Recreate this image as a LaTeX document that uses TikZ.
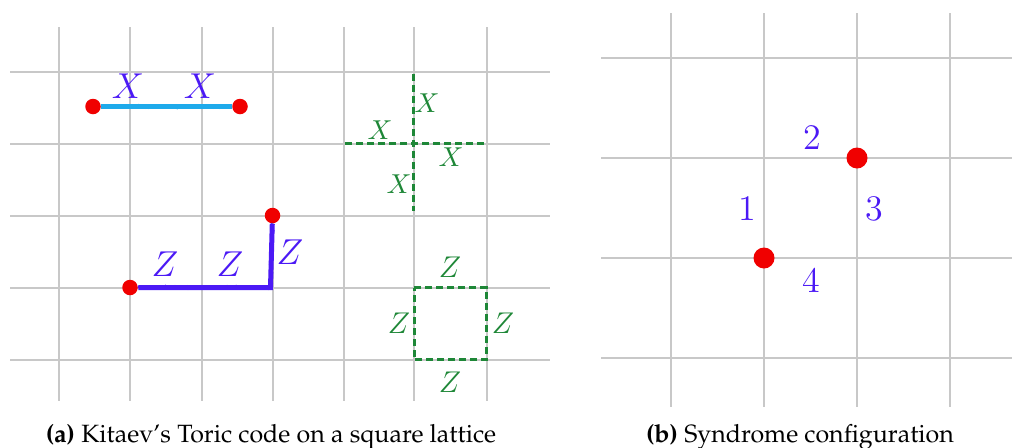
\documentclass[tikz,border=0pt]{standalone}
\usepackage[T1,TU]{fontenc}
\usetikzlibrary{decorations.pathmorphing}
\definecolor{gridgray}{RGB}{200,200,200}
\definecolor{vio}{RGB}{75,25,245}
\definecolor{cyanline}{RGB}{30,170,235}
\definecolor{dotred}{RGB}{240,0,0}
\definecolor{grn}{RGB}{30,135,55}
\newcommand{\capfont}{\fontencoding{T1}\fontfamily{ppl}\selectfont\fontsize{10}{12}\selectfont}
\tikzset{
  gridline/.style={draw=gridgray, line width=0.8pt},
  reddot/.style={circle, fill=dotred, inner sep=0pt, minimum size=6.2pt},
  bigdot/.style={circle, fill=dotred, inner sep=0pt, minimum size=8.4pt},
  vlab/.style={text=vio, inner sep=0pt, font=\fontsize{13.5}{15}\selectfont},
  glabx/.style={text=grn, inner sep=0pt, font=\fontsize{11}{13}\selectfont},
  glabz/.style={text=grn, inner sep=0pt, font=\fontsize{13}{15}\selectfont},
  nlab/.style={text=vio, inner sep=0pt, font=\fontsize{15}{17}\selectfont},
  xstring/.style={draw=cyanline, line width=2pt},
  zstring/.style={draw=vio, line width=2pt},
  fuzz/.style={line width=0.7pt, decorate, decoration={random steps, segment length=1pt, amplitude=0.6pt}},
  gdash/.style={draw=grn, line width=1.2pt, dash pattern=on 2.8pt off 1.6pt},
  caption/.style={inner sep=0pt, anchor=base, font=\capfont}
}
\begin{document}
\begin{tikzpicture}[x=0.4pt,y=-0.4pt]
\useasboundingbox (0,0) rectangle (1012,447);
% ---------- panel (a) grid ----------
\foreach \x in {59,130,201.5,272.5,343.5,414,487}
  \draw[gridline] (\x,27) -- (\x,401);
\foreach \y in {71.5,143.5,215.5,287.5,359.5}
  \draw[gridline] (10,\y) -- (550,\y);
% X string
\node[reddot] (xa) at (93,106.5) {};
\node[reddot] (xb) at (240,106.5) {};
\draw[xstring] (xa) -- (xb);
\draw[xstring, fuzz] (xa.east) -- (xb.west);
\draw[xstring, fuzz] (xa.east) -- (xb.west);
\node[vlab] (xl1) at (128,86) {$X$};
\node[vlab] (xl2) at (200,86) {$X$};
% Z string
\node[reddot] (za) at (130,287.5) {};
\node[reddot] (zb) at (272.5,215.5) {};
\coordinate (zc) at (270.5,287.5);
\draw[zstring] (za) -- (zc) -- (zb);
\draw[zstring, fuzz] (za.east) -- (zc) -- (zb.south);
\draw[zstring, fuzz] (za.east) -- (zc) -- (zb.south);
\node[vlab] (zl1) at (165,264) {$Z$};
\node[vlab] (zl2) at (230,264) {$Z$};
\node[vlab] (zl3) at (290,252) {$Z$};
% green star (vertex operator)
\coordinate (st) at (413.5,74);
\coordinate (sb) at (413.5,211);
\coordinate (sl) at (345,143.5);
\coordinate (sr) at (486,143.5);
\draw[gdash] (st) -- (sb);
\draw[gdash] (sl) -- (sr);
\node[glabx] (gx1) at (427,103) {$X$};
\node[glabx] (gx2) at (380,130) {$X$};
\node[glabx] (gx3) at (451,157) {$X$};
\node[glabx] (gx4) at (399,184) {$X$};
% green plaquette
\coordinate (p1) at (414,287.5);
\coordinate (p2) at (486.5,287.5);
\coordinate (p3) at (486.5,359.5);
\coordinate (p4) at (414,359.5);
\draw[gdash] (p1) -- (p2) -- (p3) -- (p4) -- cycle;
\node[glabz] (gz1) at (450,267) {$Z$};
\node[glabz] (gz2) at (399,323) {$Z$};
\node[glabz] (gz3) at (503,323) {$Z$};
\node[glabz] (gz4) at (450,382) {$Z$};
% caption (a)
\node[caption] (capa) at (271,442) {\textbf{(a)} Kitaev's Toric code on a square lattice};
% ---------- panel (b) ----------
\foreach \x in {671,764,857,950}
  \draw[gridline] (\x,13) -- (\x,407);
\foreach \y in {58,158,258,357.5}
  \draw[gridline] (601,\y) -- (1012,\y);
\node[bigdot] (d1) at (857,158) {};
\node[bigdot] (d2) at (764,258) {};
\node[nlab] (n2) at (812,138) {$2$};
\node[nlab] (n1) at (747,209) {$1$};
\node[nlab] (n3) at (874,209) {$3$};
\node[nlab] (n4) at (811,281) {$4$};
% caption (b)
\node[caption] (capb) at (800,442) {\textbf{(b)} Syndrome configuration};
\end{tikzpicture}
\end{document}
